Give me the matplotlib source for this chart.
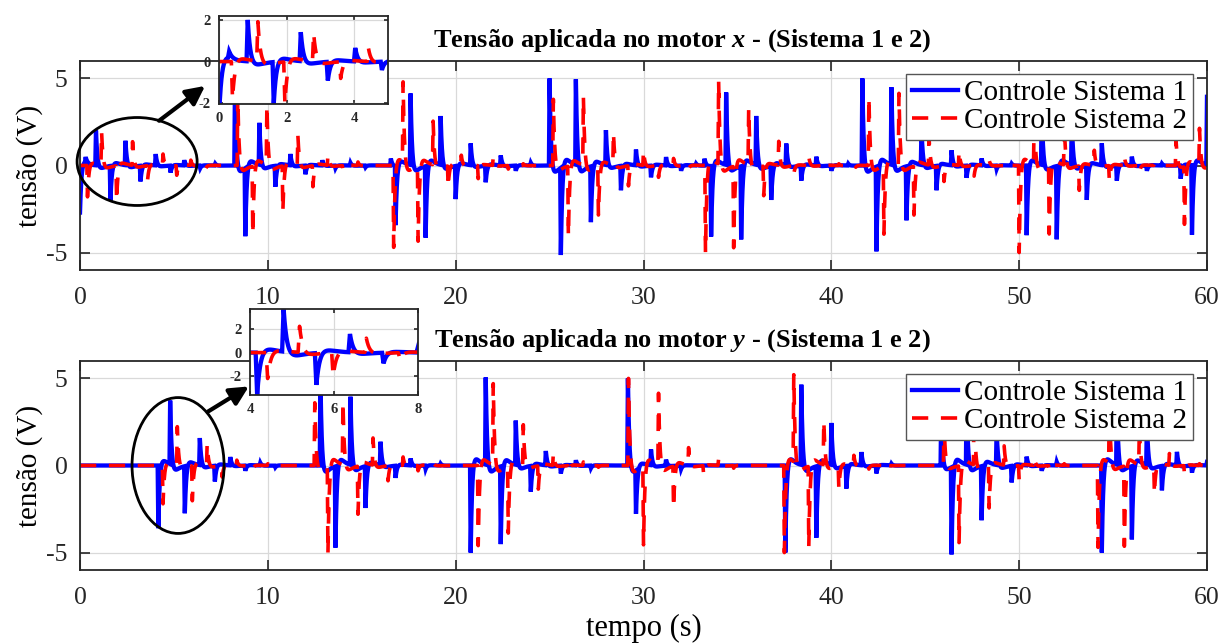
import numpy as np
import matplotlib
matplotlib.use("Agg")
import matplotlib.pyplot as plt
from matplotlib.patches import Ellipse

plt.rcParams['font.family'] = ['Liberation Serif', 'DejaVu Serif']
plt.rcParams['mathtext.fontset'] = 'custom'
plt.rcParams['mathtext.rm'] = 'Liberation Serif'
plt.rcParams['mathtext.it'] = 'Liberation Serif:italic:bold'
plt.rcParams['mathtext.bf'] = 'Liberation Serif:bold'
plt.rcParams['axes.unicode_minus'] = False

# ---- spike events (time [s], peak voltage [V]) ----
# motor x, controller of system 1
x1_times = [0.0, 0.3, 0.85, 1.62, 2.42, 3.22, 4.03, 4.82, 5.55, 6.4, 7.2,
            8.25, 8.8, 9.55, 10.4, 11.2, 12.0, 12.9, 13.6, 14.4, 15.2,
            16.55, 16.8, 17.6, 18.4, 19.2, 20.0, 20.8, 21.6, 22.4, 23.2, 24.0,
            25.0, 25.6, 26.4, 27.2, 28.0, 28.8, 29.6, 30.4, 31.2, 32.0, 32.8,
            33.25, 33.6, 34.4, 35.2, 36.0, 36.8, 37.6, 38.4, 39.2, 40.0, 40.9,
            41.65, 42.4, 43.2, 44.0, 44.8, 45.6, 46.4, 47.2, 48.0, 48.8, 49.6,
            50.4, 51.2, 52.0, 52.8, 53.6, 54.4, 55.2, 56.0, 56.8, 57.6,
            58.6, 59.2, 60.0]
x1_volts = [-2.7, 0.3, 2.0, -2.0, 1.4, -0.9, 0.65, -0.4, 0.3, -0.15, 0.1,
            4.6, -3.9, 2.4, -1.2, 0.65, -0.5, 0.3, -0.15, 0.15, -0.1,
            0.4, -3.4, 4.1, -4.1, 2.8, -1.9, 1.25, -0.95, 0.57, -0.3, 0.15,
            5.0, -5.0, 4.9, -3.2, 2.0, -1.4, 0.9, -0.67, 0.48, -0.3, 0.1,
            0.4, -4.05, 4.15, -4.2, 2.8, -1.95, 1.24, -0.86, 0.5, -0.3, 0.1,
            5.0, -4.86, 4.44, -3.1, 2.1, -1.4, 0.86, -0.7, 0.4, -0.2, 0.1,
            -4.0, 3.4, -4.2, 2.6, -1.95, 1.26, -0.86, 0.5, -0.3, 0.1,
            -0.76, -4.0, 3.9]

# motor x, controller of system 2
x2_times = [0.4, 1.15, 1.95, 2.8, 3.6, 4.42, 5.15, 5.9, 6.7,
            8.4, 9.2, 9.95, 10.8, 11.6, 12.4, 13.2, 14.0, 14.8,
            16.7, 17.2, 18.0, 18.8, 19.6, 20.3, 21.2, 22.0, 22.8, 23.6,
            25.2, 26.0, 26.8, 27.6, 28.4, 29.2, 30.0, 30.8, 31.6, 32.4,
            33.3, 34.0, 34.8, 35.6, 36.4, 37.2, 38.0, 38.8, 39.6, 40.4, 41.3,
            42.0, 42.8, 43.6, 44.4, 45.2, 46.0, 46.8, 47.6, 48.4, 49.2,
            50.0, 50.8, 51.6, 52.4, 53.2, 54.0, 54.8, 55.6, 56.4, 57.2,
            58.35, 58.8, 59.6]
x2_volts = [-1.8, 1.9, -2.0, 1.35, -0.8, 0.65, -0.55, 0.3, -0.15,
            4.0, -3.9, 3.4, -2.6, 1.7, -1.2, 0.6, -0.25, 0.2,
            -4.7, 4.6, -4.3, 2.5, -1.2, 0.57, -0.75, 0.48, -0.2, 0.1,
            3.8, -4.0, 3.9, -2.8, 1.85, -1.15, 0.86, -0.67, 0.4, -0.2,
            -5.0, 4.76, -4.67, 3.2, -1.7, 1.37, -0.48, 0.5, -0.2, 0.1, -0.1,
            3.9, -3.9, 4.1, -2.8, 1.6, -0.9, 0.83, -0.6, 0.3, -0.15,
            -5.0, 3.0, -3.9, 2.4, -1.4, 0.86, -0.86, 0.5, -0.4, 0.1,
            1.5, -3.3, 2.1]

# motor y, controller of system 1
y1_times = [4.17, 4.8, 5.58, 6.38, 7.18, 8.0, 8.8, 9.6, 10.4,
            12.8, 13.6, 14.4, 15.2, 16.0, 16.8, 17.6, 18.4, 19.2,
            20.8, 21.6, 22.4, 23.2, 24.0, 24.8, 25.6, 26.4, 27.2,
            29.17, 29.6, 30.4, 31.2, 32.0,
            37.55, 38.4, 39.2, 40.0, 40.8, 41.6, 42.4, 43.2,
            45.85, 46.4, 47.2, 48.0, 48.8, 49.6, 50.4, 51.2, 52.0,
            54.4, 55.2, 56.0, 56.8, 57.6, 58.4, 59.2, 60.0]
y1_volts = [-3.6, 3.64, -2.7, 1.55, -0.9, 0.48, -0.3, 0.15, -0.1,
            5.0, -4.66, 3.9, -2.4, 1.34, -0.7, 0.4, -0.2, 0.1,
            -5.0, 5.0, -4.46, 2.53, -1.47, 0.82, -0.45, 0.3, -0.15,
            5.0, -2.5, 0.9, 0.35, -0.2,
            -5.0, 4.6, -4.1, 2.4, -1.3, 0.76, -0.45, 0.1,
            3.0, -5.0, 4.0, -3.1, 2.0, -0.95, 0.5, -0.3, 0.2,
            -5.0, 4.0, -4.2, 2.5, -1.4, 0.77, -0.4, 0.2]

# motor y, controller of system 2
y2_times = [4.42, 5.18, 5.98, 6.77, 7.57, 8.35, 9.2, 10.0,
            12.5, 13.2, 14.0, 14.8, 15.6, 16.4, 17.2, 18.0, 18.8,
            21.2, 22.0, 22.8, 23.6, 24.4, 25.2, 26.0, 26.8, 27.6,
            29.2, 30.0, 30.8, 31.6, 32.4, 33.2, 34.0, 34.8,
            37.5, 38.0, 38.8, 39.6, 40.4, 41.2, 42.0, 42.8,
            46.0, 46.8, 47.6, 48.4, 49.2, 50.0, 50.8, 51.6, 52.4,
            54.2, 54.8, 55.6, 56.4, 57.2, 58.0, 58.8, 59.6]
y2_volts = [-2.2, 2.2, -2.0, 1.2, -0.65, 0.3, -0.2, 0.1,
            3.6, -5.0, 3.6, -2.76, 1.55, -0.86, 0.48, -0.3, 0.15,
            -4.6, 4.65, -3.83, 2.3, -1.33, 0.7, -0.4, 0.2, -0.1,
            5.0, -4.5, 4.1, -2.4, 1.0, -0.5, 0.4, -0.15,
            -5.0, 5.0, -4.6, 2.5, -1.3, 0.57, -0.2, 0.2,
            2.5, -4.4, 3.5, -2.4, 1.1, -0.85, 0.45, -0.3, 0.1,
            -4.7, 3.6, -4.6, 2.2, -1.6, 0.67, -0.48, 0.1]

x_ticks = [0, 10, 20, 30, 40, 50, 60]
y_ticks = [-5, 0, 5]
series_labels = ['Controle Sistema 1', 'Controle Sistema 2']
titles = [r'Tensão aplicada no motor $\mathit{x}$ - (Sistema 1 e 2)',
          r'Tensão aplicada no motor $\mathit{y}$ - (Sistema 1 e 2)']

t = np.linspace(0.0, 60.0, 24001)


def control_signal(times, volts):
    """Sum of sharp controller spikes: fast rise, fast decay, small rebound."""
    u = np.zeros_like(t)
    for t0, a in zip(times, volts):
        d = t - t0
        pos = np.clip(d, 0, None)
        rise = np.clip(1 + d / 0.035, 0, 1) * (d < 0)
        fall = np.exp(-pos / 0.08) * (d >= 0)
        ring = -0.12 * (pos / 0.16) * np.exp(1 - pos / 0.16) * (d >= 0)
        u += a * (rise + fall + ring)
    return u


u_x1 = control_signal(x1_times, x1_volts)
u_x2 = control_signal(x2_times, x2_volts)
u_y1 = control_signal(y1_times, y1_volts)
u_y2 = control_signal(y2_times, y2_volts)

W, H = 1232, 643
fig = plt.figure(figsize=(W / 100, H / 100), dpi=100)

BLUE = '#0000ff'
RED = '#ff0000'
EDGE = '#262626'
DASH = (0, (4.5, 3.5))


def px_box(left, top, right, bottom):
    return [left / W, 1 - bottom / H, (right - left) / W, (bottom - top) / H]


def style_axes(ax, fs, bold=False, ticklen=7, pad=6):
    for s in ax.spines.values():
        s.set_color(EDGE)
        s.set_linewidth(1.3)
    ax.tick_params(direction='in', which='both', top=True, right=True,
                   length=ticklen, width=1.2, colors=EDGE, labelsize=fs, pad=pad,
                   labelcolor='#262626')
    ax.grid(True, color='#d9d9d9', lw=0.9)
    ax.set_axisbelow(True)
    if bold:
        for lab in ax.get_xticklabels() + ax.get_yticklabels():
            lab.set_fontweight('bold')


def draw(ax, u1, u2):
    ax.plot(t, u1, color=BLUE, lw=3.1, solid_joinstyle='miter')
    ax.plot(t, u2, color=RED, lw=2.6, linestyle=DASH)


main_boxes = [px_box(80, 61, 1207, 270), px_box(80, 361, 1207, 570)]
signals = [(u_x1, u_x2), (u_y1, u_y2)]
axes = []
for k, (box, (u1, u2)) in enumerate(zip(main_boxes, signals)):
    ax = fig.add_axes(box)
    draw(ax, u1, u2)
    ax.set_xlim(0, 60)
    ax.set_ylim(-6, 6)
    ax.set_xticks(x_ticks)
    ax.set_yticks(y_ticks)
    style_axes(ax, 18.5, ticklen=7, pad=12)
    ax.tick_params(axis='y', pad=9)
    ax.set_ylabel('tensão (V)', fontsize=21, labelpad=2)
    leg = ax.legend(series_labels, loc='upper right',
                    bbox_to_anchor=((1193 - 80) / 1127, (270 - 74) / 209),
                    borderaxespad=0, fontsize=21, handlelength=1.6,
                    handletextpad=0.2, labelspacing=0.05, borderpad=0.2,
                    fancybox=False, framealpha=1, edgecolor='#555555')
    leg.get_frame().set_linewidth(1.0)
    axes.append(ax)

axes[1].set_xlabel('tempo (s)', fontsize=22, labelpad=4)

# titles
fig.text(682 / W, 1 - 41 / H, titles[0], ha='center', va='center',
         fontsize=19, fontweight='bold')
fig.text(682 / W, 1 - 341 / H, titles[1], ha='center', va='center',
         fontsize=19, fontweight='bold')

# zoomed views
ins1 = fig.add_axes(px_box(219, 16, 388, 104))
draw(ins1, u_x1, u_x2)
ins1.set_xlim(0, 5)
ins1.set_ylim(-2.05, 2.2)
ins1.set_xticks([0, 2, 4])
ins1.set_yticks([-2, 0, 2])
style_axes(ins1, 10.5, bold=True, ticklen=3, pad=6)

ins2 = fig.add_axes(px_box(250, 309, 418, 395))
draw(ins2, u_y1, u_y2)
ins2.set_xlim(4, 8)
ins2.set_ylim(-3.6, 3.7)
ins2.set_xticks([4, 6, 8])
ins2.set_yticks([-2, 0, 2])
style_axes(ins2, 10.5, bold=True, ticklen=3, pad=6)

# highlight ellipses and arrows
ax1, ax2 = axes
ax1.add_patch(Ellipse((3.04, 0.23), 6.39, 5.05, fill=False, ec='black',
                      lw=2.0, zorder=5, clip_on=False))
ax1.annotate('', xy=(6.66, 4.57), xytext=(4.21, 2.57),
             arrowprops=dict(arrowstyle='-|>', lw=3, color='black',
                             mutation_scale=28, shrinkA=0, shrinkB=0),
             annotation_clip=False, zorder=6)
ax2.add_patch(Ellipse((5.22, 0.0), 4.9, 7.8, fill=False, ec='black',
                      lw=2.0, zorder=5, clip_on=False))
ax2.annotate('', xy=(8.99, 4.54), xytext=(6.82, 3.10),
             arrowprops=dict(arrowstyle='-|>', lw=3, color='black',
                             mutation_scale=28, shrinkA=0, shrinkB=0),
             annotation_clip=False, zorder=6)

fig.savefig('out.png', dpi=100)
